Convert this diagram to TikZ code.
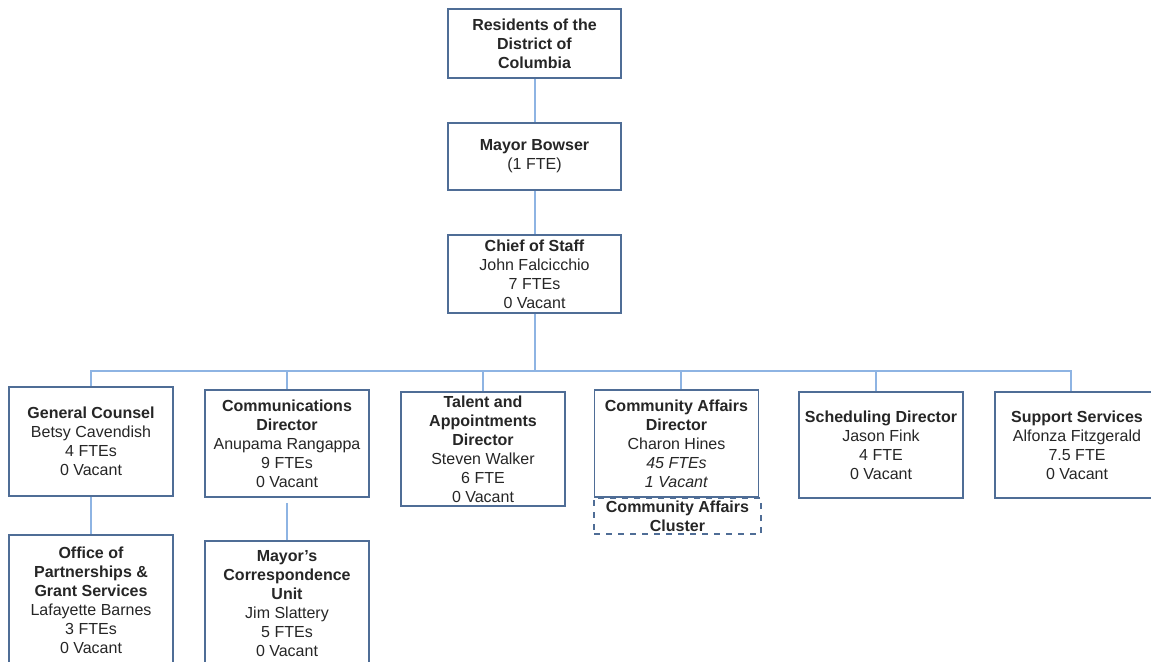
\documentclass[tikz,border=0pt]{standalone}
\usepackage{fontspec}
\setmainfont{Liberation Sans}
\usepackage{xcolor}
\usepackage{tikz}

\definecolor{boxblue}{HTML}{4F6D96}
\definecolor{lineblue}{HTML}{8EB4E3}
\definecolor{inkgray}{HTML}{262626}

\tikzset{
  unit/.style={draw=boxblue, line width=0.8pt, fill=white, align=center,
    minimum width=82pt, inner sep=1pt, text=inkgray,
    font=\fontsize{8}{9.5}\selectfont},
  topunit/.style={unit, minimum width=86.5pt},
  link/.style={draw=lineblue, line width=1pt},
}

\begin{document}
\begin{tikzpicture}[x=0.5pt, y=-0.5pt]
    \useasboundingbox (0,0) rectangle (1151,662);
    \clip (0,0) rectangle (1151,662);

    % top of the chart
    \node[topunit, minimum height=34.5pt] (res) at (534.5,43.5)
      {\textbf{Residents of the}\\\textbf{District of}\\\textbf{Columbia}};
    \node[topunit, minimum height=33.5pt] (mayor) at (534.5,156.5)
      {\textbf{Mayor Bowser}\\(1 FTE)};
    \node[topunit, minimum height=39pt] (cos) at (534.5,274)
      {\textbf{Chief of Staff}\\John Falcicchio\\7 FTEs\\0 Vacant};

    % directors
    \node[unit, minimum height=54.5pt] (gc) at (91,441.5)
      {\textbf{General Counsel}\\Betsy Cavendish\\4 FTEs\\0 Vacant};
    \node[unit, minimum height=53.5pt] (comm) at (287,443.5)
      {\textbf{Communications}\\\textbf{Director}\\Anupama Rangappa\\9 FTEs\\0 Vacant};
    \node[unit, minimum height=57pt] (tal) at (483,449)
      {\textbf{Talent and}\\\textbf{Appointments}\\\textbf{Director}\\Steven Walker\\6 FTE\\0 Vacant};
    \node[unit, dashed, fill=none, minimum width=83.5pt, minimum height=18pt] (cluster) at (677.5,516)
      {\textbf{Community Affairs}\\\textbf{Cluster}};
    \node[unit, minimum height=53.5pt] (caff) at (676.5,443.5)
      {\textbf{Community Affairs}\\\textbf{Director}\\Charon Hines\\\textit{45 FTEs}\\\textit{1 Vacant}};
    \node[unit, minimum height=53pt] (sched) at (881,445)
      {\textbf{Scheduling Director}\\Jason Fink\\4 FTE\\0 Vacant};
    \node[unit, minimum height=53pt] (supp) at (1077,445)
      {\textbf{Support Services}\\Alfonza Fitzgerald\\7.5 FTE\\0 Vacant};

    % lower units
    \node[unit, minimum height=65pt] (ops) at (91,600)
      {\textbf{Office of}\\\textbf{Partnerships \&}\\\textbf{Grant Services}\\Lafayette Barnes\\3 FTEs\\0 Vacant};
    \node[unit, minimum height=62.5pt] (corr) at (287,603.5)
      {\textbf{Mayor's}\\\textbf{Correspondence}\\\textbf{Unit}\\Jim Slattery\\5 FTEs\\0 Vacant};

    % connectors
    \coordinate (bus) at (534.5,371);
    \draw[link] (res.south) -- (mayor.north);
    \draw[link] (mayor.south) -- (cos.north);
    \draw[link] (cos.south) -- (bus);
    \foreach \n/\dx in {gc/0,comm/0,tal/0,caff/2.25,sched/-2.5,supp/-3}
      \draw[link] ([xshift=\dx pt]\n.north) |- (bus);
    \draw[link] (gc.south) -- (ops.north);
    \draw[link] ([yshift=-2.5pt]comm.south) -- (corr.north);
\end{tikzpicture}
\end{document}
